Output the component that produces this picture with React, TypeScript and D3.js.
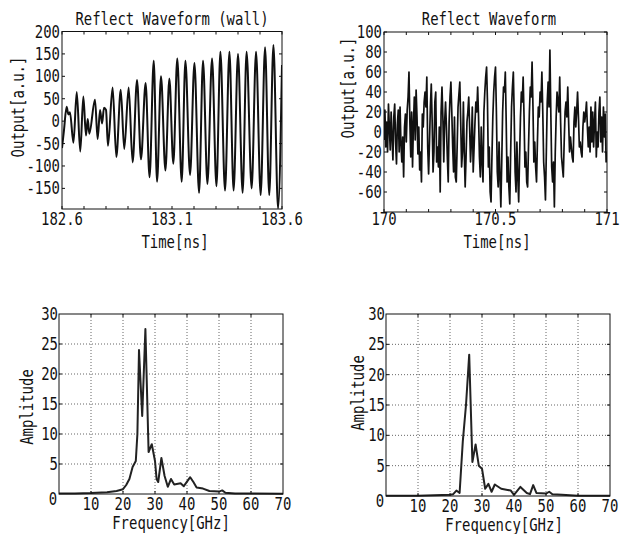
import React from 'react';
import * as d3 from 'd3';

const FONT = '"DejaVu Sans Mono", monospace';
const CHAR_W = 8.4;

// Reflect Waveform (wall): peaks / troughs
const wallTime = [
  182.600, 182.609, 182.621, 182.629, 182.636, 182.652, 182.667, 182.683, 182.697, 182.709,
  182.717, 182.724, 182.750, 182.762, 182.773, 182.782, 182.791, 182.800, 182.809, 182.830,
  182.847, 182.867, 182.883, 182.903, 182.921, 182.941, 182.959, 182.980, 182.998, 183.017,
  183.032, 183.050, 183.070, 183.088, 183.106, 183.124, 183.144, 183.161, 183.182, 183.202,
  183.223, 183.241, 183.261, 183.282, 183.302, 183.320, 183.341, 183.361, 183.380, 183.400,
  183.421, 183.439, 183.462, 183.482, 183.503, 183.523, 183.542, 183.561, 183.582, 183.600,
];
const wallOutput = [
  -60, -20, 32, 15, 20, -48, 65, -68, 55, -32,
  5, -28, 48, -40, 25, -5, 30, 25, -55, 75,
  -80, 70, -62, 75, -92, 92, -85, 85, -125, 135,
  -135, 100, -110, 95, -95, 140, -135, 135, -120, 130,
  -160, 135, -140, 140, -145, 155, -155, 155, -155, 150,
  -160, 155, -150, 155, -165, 165, -165, 170, -195, 125,
];
const wallTickX = [182.6, 182.7, 182.8, 182.9, 183.0, 183.1, 183.2, 183.3, 183.4, 183.5, 183.6];
const wallLabelX = ['182.6', '183.1', '183.6'];
const wallTickY = [200, 150, 100, 50, 0, -50, -100, -150];

// Reflect Waveform: one sample every 0.004 ns from 170 ns
const reflStart = 170;
const reflStep = 0.004;
const reflOutput = [
  -8, 22, -15, 10, -20, 28, 5, -18, 20, -5,
  -28, 15, 28, -10, -32, 8, 22, -20, 25, -12,
  -30, -5, -45, 5, 18, -10, 22, 35, 60, 10,
  -25, 20, -35, 8, 35, -8, 42, 15, -22, 5,
  -38, -20, -50, 18, 5, 30, 40, 25, 55, -15,
  -42, -10, 25, 48, 10, -40, -20, 30, 40, -30,
  -15, -35, 5, -60, 20, 45, 15, -30, 10, 30,
  5, -25, -50, 10, 35, 50, 20, -15, -40, 15,
  -45, -50, -15, 25, 38, 50, 10, -35, -20, 30,
  -20, -55, -25, 10, 20, 35, 5, -30, -10, 25,
  -40, -15, 10, 30, 20, 45, 15, -25, -45, 5,
  -30, -50, 20, 40, 55, 65, 30, -35, -15, -60,
  -70, -25, 15, 40, 55, 65, 20, -40, -55, -10,
  -45, -75, -30, 20, 45, 40, 60, 10, -50, -25,
  -55, -72, -20, 25, 45, 60, 15, -40, -60, -10,
  -45, -70, -25, 15, 40, 30, 55, 15, -35, -20,
  -50, -55, -15, 20, 45, 35, 70, 25, -30, -10,
  -35, -50, -10, 25, 15, 40, 30, 60, 20, -30,
  -45, -68, -20, 30, 50, 25, 82, 20, -35, -50,
  -30, -75, -20, 15, 40, 30, 20, 55, 10, -25,
  -35, -45, -10, 20, 30, 15, 45, 10, -20, -5,
  -15, -25, -30, 10, 25, 5, 20, 40, 15, -15,
  -10, -20, -25, 5, 20, 10, 18, 30, 5, -15,
  5, -20, 25, -10, 20, -15, 10, 30, -25, 0,
  -15, 20, 35, -10, 15, -20, 25, -5, 18, -30,
  -20,
];
const reflTickX = [170, 170.1, 170.2, 170.3, 170.4, 170.5, 170.6, 170.7, 170.8, 170.9, 171];
const reflLabelX = ['170', '170.5', '171'];
const reflTickY = [100, 80, 60, 40, 20, 0, -20, -40, -60];

// Spectra
const wallFreq = [0, 5, 10, 15, 18, 20, 21, 22, 23, 24, 24.5, 25, 26, 27, 28, 29, 30, 30.5, 31, 32, 33, 34, 35, 36, 38, 39, 41, 42, 43, 45, 47, 50, 51, 52, 55, 70];
const wallAmp = [0.1, 0.1, 0.15, 0.3, 0.5, 0.8, 1.5, 2.5, 4.5, 5.5, 10, 24, 13, 27.5, 7, 8.3, 5.5, 2.5, 2, 6, 3, 1.2, 2.5, 1.6, 1.8, 1.3, 2.8, 2, 1.1, 0.9, 0.5, 0.4, 0.6, 0.2, 0.1, 0.05];
const reflFreq = [0, 10, 20, 21, 22, 23, 24, 25, 26, 27, 28, 29, 30, 31, 32, 33, 34, 36, 38, 39, 40, 42, 44, 45, 46, 47, 50, 51, 52, 55, 60, 70];
const reflAmp = [0.05, 0.05, 0.2, 0.3, 0.9, 0.5, 9, 15, 23.3, 5.6, 8.5, 5, 4.5, 1.2, 2, 0.7, 1.9, 1.2, 1, 0.9, 0.2, 1.5, 0.5, 0.3, 1.8, 0.5, 0.4, 0.7, 0.3, 0.2, 0.05, 0.05];
const freqGrid = [10, 20, 30, 40, 50, 60];
const freqLabels = [10, 20, 30, 40, 50, 60, 70];
const ampGrid = [5, 10, 15, 20, 25];
const ampLabels = [30, 25, 20, 15, 10, 5];

// narrow "gothic" text: monospace squeezed to the reference's cell width
function T(props: any) {
  const { x = 0, y = 0, s, anchor = 'middle', size = 17, transform } = props;
  const str = String(s);
  return (
    <text x={x} y={y} transform={transform} textAnchor={anchor} fontSize={size} fill="#111"
      textLength={str.length * CHAR_W} lengthAdjust="spacingAndGlyphs">{str}</text>
  );
}

function WavePanel(props: any) {
  const { box, xDomain, yDomain, pts, curve, width, tickX, labelX, labelPos, tickY, title, titleX, yLab, xLab } = props;
  const x = d3.scaleLinear().domain(xDomain).range([box.l, box.r]);
  const y = d3.scaleLinear().domain(yDomain).range([box.b, box.t]);
  const line = d3.line<[number, number]>().x(d => x(d[0])).y(d => y(d[1])).curve(curve);
  return (
    <g>
      <clipPath id={`c${box.l}`}>
        <rect x={box.l} y={box.t} width={box.r - box.l} height={box.b - box.t} />
      </clipPath>
      <path d={line(pts) || ''} fill="none" stroke="#111" strokeWidth={width} strokeLinejoin="round" clipPath={`url(#c${box.l})`} />
      <rect x={box.l} y={box.t} width={box.r - box.l} height={box.b - box.t} fill="none" stroke="#111" strokeWidth={1} />
      {tickX.map((v: number) => (
        <g key={'x' + v} stroke="#111">
          <line x1={x(v)} x2={x(v)} y1={box.b} y2={box.b - 3} />
          <line x1={x(v)} x2={x(v)} y1={box.t} y2={box.t + 3} />
        </g>
      ))}
      {tickY.map((v: number) => (
        <g key={'y' + v}>
          <line x1={box.l} x2={box.l + 3} y1={y(v)} y2={y(v)} stroke="#111" />
          <line x1={box.r} x2={box.r - 3} y1={y(v)} y2={y(v)} stroke="#111" />
          <T x={box.l - 2} y={y(v) + 6} s={v} anchor="end" />
        </g>
      ))}
      {labelX.map((s: string, i: number) => (
        <T key={s} x={x(labelPos[i])} y={225} s={s} />
      ))}
      <T x={titleX} y={25} s={title} />
      <T x={xLab[0]} y={xLab[1]} s="Time[ns]" />
      <T transform={`translate(${yLab[0]},${yLab[1]}) rotate(-90)`} y={6} s="Output[a.u.]" />
    </g>
  );
}

function SpecPanel(props: any) {
  const { box, freq, amp, yLab, xLab } = props;
  const x = d3.scaleLinear().domain([0, 70]).range([box.l, box.r]);
  const y = d3.scaleLinear().domain([0, 30]).range([box.b, box.t]);
  const line = d3.line<number>().x((_, i) => x(freq[i])).y(d => y(d));
  return (
    <g>
      {freqGrid.map(v => (
        <line key={'gx' + v} x1={x(v)} x2={x(v)} y1={box.t} y2={box.b} stroke="#666" strokeDasharray="1,2" />
      ))}
      {ampGrid.map(v => (
        <line key={'gy' + v} x1={box.l} x2={box.r} y1={y(v)} y2={y(v)} stroke="#666" strokeDasharray="1,2" />
      ))}
      <path d={line(amp) || ''} fill="none" stroke="#222" strokeWidth={2} strokeLinejoin="round" />
      <rect x={box.l} y={box.t} width={box.r - box.l} height={box.b - box.t} fill="none" stroke="#111" strokeWidth={1} />
      {freqGrid.map(v => (
        <g key={'tx' + v} stroke="#111">
          <line x1={x(v)} x2={x(v)} y1={box.b} y2={box.b - 3} />
          <line x1={x(v)} x2={x(v)} y1={box.t} y2={box.t + 3} />
        </g>
      ))}
      {ampGrid.map(v => (
        <g key={'ty' + v} stroke="#111">
          <line x1={box.l} x2={box.l + 3} y1={y(v)} y2={y(v)} />
          <line x1={box.r} x2={box.r - 3} y1={y(v)} y2={y(v)} />
        </g>
      ))}
      {ampLabels.map(v => (
        <T key={'ly' + v} x={box.l - 1} y={y(v) + 6} s={v} anchor="end" />
      ))}
      {freqLabels.map(v => (
        <T key={'lx' + v} x={x(v)} y={box.b + 16} s={v} />
      ))}
      <T x={x(0) - 6} y={y(0) + 11} s={0} />
      <T x={xLab[0]} y={xLab[1]} s="Frequency[GHz]" />
      <T transform={`translate(${yLab[0]},${yLab[1]}) rotate(-90)`} y={6} s="Amplitude" />
    </g>
  );
}

export default function App() {
  const wallPts = wallTime.map((t, i) => [t, wallOutput[i]] as [number, number]);
  const reflPts = reflOutput.map((v, i) => [reflStart + i * reflStep, v] as [number, number]);
  return (
    <div style={{ position: 'absolute', left: 0, top: 0 }}>
      <svg width={626} height={534} style={{ display: 'block', background: '#fff' }} fontFamily={FONT}>
        <WavePanel
          box={{ l: 62, r: 282, t: 31.5, b: 209 }}
          xDomain={[182.6, 183.6]} yDomain={[-196, 200]}
          pts={wallPts} curve={d3.curveMonotoneX} width={2}
          tickX={wallTickX} labelX={wallLabelX} labelPos={[182.6, 183.1, 183.6]} tickY={wallTickY}
          title="Reflect Waveform (wall)" titleX={172} yLab={[18, 107]} xLab={[175, 248]}
        />
        <WavePanel
          box={{ l: 384, r: 607, t: 32, b: 212 }}
          xDomain={[170, 171]} yDomain={[-80, 100]}
          pts={reflPts} curve={d3.curveLinear} width={1.7}
          tickX={reflTickX} labelX={reflLabelX} labelPos={[170, 170.5, 171]} tickY={reflTickY}
          title="Reflect Waveform" titleX={489} yLab={[348, 88]} xLab={[497, 248]}
        />
        <SpecPanel box={{ l: 59, r: 283, t: 314, b: 494 }} freq={wallFreq} amp={wallAmp} yLab={[27, 407]} xLab={[171, 529]} />
        <SpecPanel box={{ l: 386, r: 610, t: 314, b: 496 }} freq={reflFreq} amp={reflAmp} yLab={[358, 393]} xLab={[504, 531]} />
      </svg>
    </div>
  );
}
